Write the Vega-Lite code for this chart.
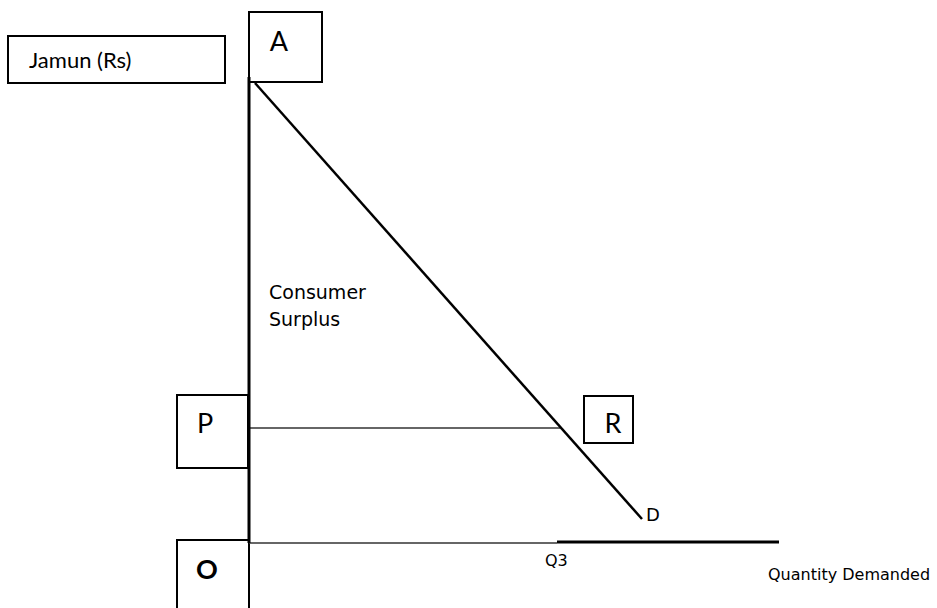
{
  "$schema": "https://vega.github.io/schema/vega-lite/v6.json",
  "width": 937,
  "height": 608,
  "padding": 0,
  "autosize": {"type": "fit", "contains": "padding"},
  "background": "white",
  "config": {"view": {"stroke": null}},
  "datasets": {
    "segments": [
      {"name": "price axis", "q": 0, "p": 0, "q2": 0, "p2": 46.6, "w": "thick"},
      {"name": "quantity axis thin", "q": 0, "p": 0, "q2": 30.8, "p2": 0, "w": "thin"},
      {"name": "quantity axis thick", "q": 30.8, "p": 0.1, "q2": 53.0, "p2": 0.1, "w": "thick"},
      {"name": "price P", "q": 0, "p": 11.5, "q2": 31.1, "p2": 11.5, "w": "thin"},
      {"name": "demand", "q": 0.6, "p": 46.0, "q2": 39.3, "p2": 2.4, "w": "demand"}
    ],
    "boxes": [
      {"name": "Jamun", "q": -24.1, "q2": -2.4, "p": 50.7, "p2": 46.0},
      {"name": "A", "q": 0, "q2": 7.3, "p": 53.1, "p2": 46.1},
      {"name": "P", "q": -7.2, "q2": -0.1, "p": 14.8, "p2": 7.5},
      {"name": "R", "q": 33.5, "q2": 38.4, "p": 14.7, "p2": 10.0},
      {"name": "O", "q": -7.2, "q2": 0, "p": 0.3, "p2": -7.7}
    ],
    "bigLabels": [
      {"label": "A", "q": 3.0, "p": 50.0},
      {"label": "P", "q": -4.4, "p": 11.8},
      {"label": "R", "q": 36.4, "p": 11.8}
    ],
    "smallLabels": [
      {"label": "Consumer", "q": 2.0, "p": 25.0},
      {"label": "Surplus", "q": 2.0, "p": 22.3}
    ]
  },
  "encoding": {
    "x": {"type": "quantitative", "scale": {"domain": [-24.9, 68.8], "nice": false, "zero": false}, "axis": null},
    "y": {"type": "quantitative", "scale": {"domain": [-6.5, 54.3], "nice": false, "zero": false}, "axis": null}
  },
  "layer": [
    {
      "data": {"name": "boxes"},
      "mark": {"type": "rect", "fill": "white", "stroke": "black", "strokeWidth": 2, "clip": true},
      "encoding": {
        "x": {"field": "q", "type": "quantitative"},
        "x2": {"field": "q2"},
        "y": {"field": "p", "type": "quantitative"},
        "y2": {"field": "p2"}
      }
    },
    {
      "data": {"name": "segments"},
      "transform": [{"filter": "datum.w === 'thin'"}],
      "mark": {"type": "rule", "color": "#333333", "strokeWidth": 1.5},
      "encoding": {
        "x": {"field": "q", "type": "quantitative"},
        "x2": {"field": "q2"},
        "y": {"field": "p", "type": "quantitative"},
        "y2": {"field": "p2"}
      }
    },
    {
      "data": {"name": "segments"},
      "transform": [{"filter": "datum.w === 'thick'"}],
      "mark": {"type": "rule", "color": "black", "strokeWidth": 3},
      "encoding": {
        "x": {"field": "q", "type": "quantitative"},
        "x2": {"field": "q2"},
        "y": {"field": "p", "type": "quantitative"},
        "y2": {"field": "p2"}
      }
    },
    {
      "data": {"name": "segments"},
      "transform": [{"filter": "datum.w === 'demand'"}],
      "mark": {"type": "rule", "color": "black", "strokeWidth": 2.5},
      "encoding": {
        "x": {"field": "q", "type": "quantitative"},
        "x2": {"field": "q2"},
        "y": {"field": "p", "type": "quantitative"},
        "y2": {"field": "p2"}
      }
    },
    {
      "data": {"values": [{"label": "Jamun (Rs)", "q": -22.0, "p": 48.2}]},
      "mark": {"type": "text", "align": "left", "baseline": "middle", "font": "Lato", "fontSize": 22, "color": "black"},
      "encoding": {
        "x": {"field": "q", "type": "quantitative"},
        "y": {"field": "p", "type": "quantitative"},
        "text": {"field": "label"}
      }
    },
    {
      "data": {"name": "bigLabels"},
      "mark": {"type": "text", "align": "center", "baseline": "middle", "font": "Lato", "fontSize": 27, "color": "black"},
      "encoding": {
        "x": {"field": "q", "type": "quantitative"},
        "y": {"field": "p", "type": "quantitative"},
        "text": {"field": "label"}
      }
    },
    {
      "data": {"values": [{"label": "O", "q": -4.2, "p": -2.8}]},
      "mark": {"type": "text", "align": "center", "baseline": "middle", "font": "Lato", "fontSize": 27, "fontWeight": "bold", "color": "black"},
      "encoding": {
        "x": {"field": "q", "type": "quantitative"},
        "y": {"field": "p", "type": "quantitative"},
        "text": {"field": "label"}
      }
    },
    {
      "data": {"name": "smallLabels"},
      "mark": {"type": "text", "align": "left", "baseline": "middle", "font": "DejaVu Sans", "fontSize": 19, "color": "black"},
      "encoding": {
        "x": {"field": "q", "type": "quantitative"},
        "y": {"field": "p", "type": "quantitative"},
        "text": {"field": "label"}
      }
    },
    {
      "data": {"values": [{"label": "D", "q": 39.7, "p": 2.7}]},
      "mark": {"type": "text", "align": "left", "baseline": "middle", "font": "DejaVu Sans", "fontSize": 18, "color": "black"},
      "encoding": {
        "x": {"field": "q", "type": "quantitative"},
        "y": {"field": "p", "type": "quantitative"},
        "text": {"field": "label"}
      }
    },
    {
      "data": {"values": [{"label": "Q3", "q": 29.6, "p": -1.8}]},
      "mark": {"type": "text", "align": "left", "baseline": "middle", "font": "DejaVu Sans", "fontSize": 16, "color": "black"},
      "encoding": {
        "x": {"field": "q", "type": "quantitative"},
        "y": {"field": "p", "type": "quantitative"},
        "text": {"field": "label"}
      }
    },
    {
      "data": {"values": [{"label": "Quantity Demanded", "q": 51.9, "p": -3.2}]},
      "mark": {"type": "text", "align": "left", "baseline": "middle", "font": "DejaVu Sans", "fontSize": 16, "color": "black"},
      "encoding": {
        "x": {"field": "q", "type": "quantitative"},
        "y": {"field": "p", "type": "quantitative"},
        "text": {"field": "label"}
      }
    }
  ]
}
